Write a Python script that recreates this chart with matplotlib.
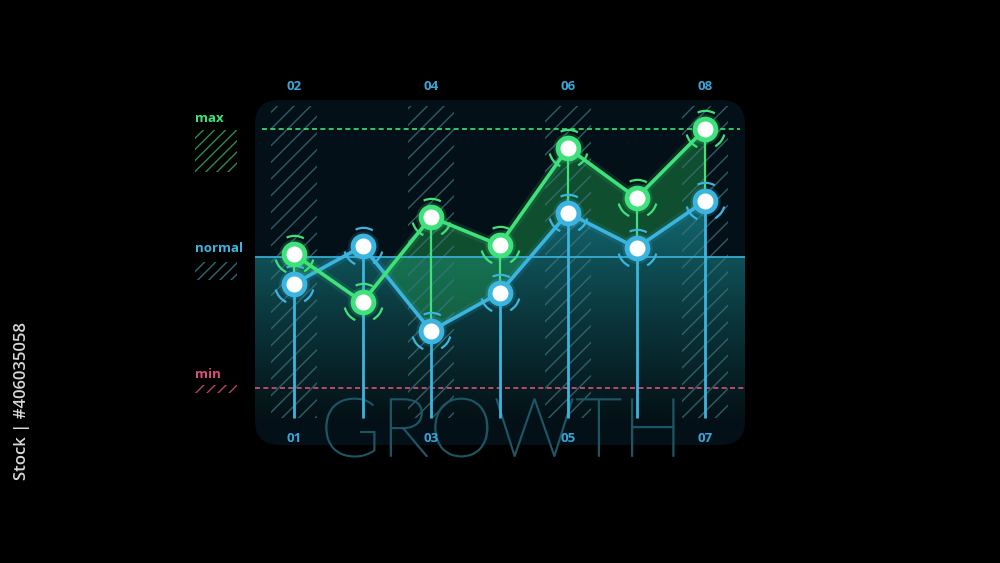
import numpy as np
import matplotlib
matplotlib.use("Agg")
import matplotlib.pyplot as plt
import matplotlib.patheffects as pe
from matplotlib.patches import Rectangle, FancyBboxPatch
from matplotlib.path import Path
from matplotlib.colors import LinearSegmentedColormap

# ---------------- data ----------------
x_pos = [1, 2, 3, 4, 5, 6, 7]
green_values = [51.7, 33.2, 66.0, 55.2, 92.7, 73.4, 100.0]
blue_values = [40.2, 54.8, 22.0, 36.7, 67.6, 54.1, 72.2]
max_level = 100.0
normal_level = 50.5
min_level = 0.0
top_labels = ["02", "04", "06", "08"]
bottom_labels = ["01", "03", "05", "07"]
label_pos = [1, 3, 5, 7]
legend_names = ["max", "normal", "min"]
title_text = "GROWTH"
stock_id = "Stock | #406035058"

# ---------------- style ----------------
BG = "#000000"
PANEL = "#031017"
GREEN = "#3fe27a"
BLUE = "#3bb5e0"
PINK = "#d9507c"
LABEL = "#3aa6d8"
HATCH_COL = "#3f7580"

plt.rcParams["hatch.linewidth"] = 1.0
fig = plt.figure(figsize=(10, 5.63), dpi=100, facecolor=BG)
ax = fig.add_axes([0, 0, 1, 1])
ax.set_facecolor(BG)
ax.set_axis_off()

# pixel mapping: x=1 -> 294 px, spacing 68.5 px ; y=0 -> 388 px from top, 2.59 px/unit
PX_X = 68.5
PX_Y = 2.59
ax.set_xlim(1 - 294 / PX_X, 1 + (1000 - 294) / PX_X)
ax.set_ylim(-(563 - 388) / PX_Y, 388 / PX_Y)

def px2x(p):
    return 1 + (p - 294) / PX_X

def px2y(p):
    return (388 - p) / PX_Y

xs = np.array(x_pos, dtype=float)
g = np.array(green_values)
b = np.array(blue_values)

x_left, x_right = px2x(255), px2x(745)
y_bottom_drop = px2y(418)

# panel
panel = FancyBboxPatch((x_left, px2y(445)), x_right - x_left, px2y(100) - px2y(445),
                       boxstyle="round,pad=0,rounding_size=0.35",
                       mutation_aspect=PX_X / PX_Y,
                       facecolor=PANEL, edgecolor="none", zorder=0)
ax.add_patch(panel)

# gradient (teal) under blue line and below normal line
cmap = LinearSegmentedColormap.from_list("tealgrad", ["#041116", "#0a3439", "#115e66", "#137478"])
grad = np.linspace(0, 1, 256).reshape(-1, 1)
ext = [x_left, x_right, px2y(420), max_level]
im1 = ax.imshow(grad, cmap=cmap, extent=ext, origin="lower", aspect="auto", zorder=1,
                interpolation="bicubic")
clip_rect = Rectangle((x_left, px2y(420)), x_right - x_left, normal_level - px2y(420),
                      transform=ax.transData, facecolor="none", edgecolor="none")
im1.set_clip_path(clip_rect)
im2 = ax.imshow(grad, cmap=cmap, extent=ext, origin="lower", aspect="auto", zorder=1,
                interpolation="bicubic")
poly_above = ax.fill_between(xs, b, normal_level, where=b > normal_level, interpolate=True,
                             facecolor="none", edgecolor="none")
paths = poly_above.get_paths()
if paths:
    verts = np.vstack([p.vertices for p in paths])
    codes = np.concatenate([p.codes if p.codes is not None else
                            np.r_[Path.MOVETO, [Path.LINETO] * (len(p.vertices) - 1)]
                            for p in paths])
    im2.set_clip_path(Path(verts, codes), ax.transData)

# green fill between green and blue
ax.fill_between(xs, g, b, where=g >= b, interpolate=True, color="#1f9a4e", alpha=0.45,
                lw=0, zorder=2)

# hatched columns
col_w = 46 / PX_X
for p in label_pos:
    ax.add_patch(Rectangle((p - col_w / 2, y_bottom_drop), col_w, px2y(106) - y_bottom_drop,
                           facecolor="none", edgecolor=HATCH_COL, hatch="//", lw=0,
                           alpha=0.75, zorder=3))

# reference lines
ax.hlines(max_level, px2x(262), px2x(740), colors=GREEN, linestyles=(0, (3, 2)), lw=1.2, zorder=4)
ax.hlines(normal_level, x_left, x_right, colors=BLUE, lw=1.4, alpha=0.85, zorder=4)
ax.hlines(min_level, x_left, x_right, colors=PINK, linestyles=(0, (3, 2)), lw=1.2, zorder=4)

# drop lines
ax.vlines(xs, y_bottom_drop, b, colors=BLUE, lw=2.0, zorder=5)
mask = g > b
ax.vlines(xs[mask], b[mask], g[mask], colors=GREEN, lw=1.6, zorder=5)

# series lines with glow
for vals, col in ((b, BLUE), (g, GREEN)):
    ax.plot(xs, vals, color=col, lw=7, alpha=0.12, solid_capstyle="round", zorder=6)
    ax.plot(xs, vals, color=col, lw=2.6, solid_capstyle="round", zorder=6)

# markers
arc_a = Path.arc(60, 115)
arc_b = Path.arc(195, 245)
arc_c = Path.arc(300, 345)
for vals, col in ((b, BLUE), (g, GREEN)):
    ax.plot(xs, vals, "o", ms=22, color=col, alpha=0.18, mew=0, zorder=7)
    for arc in (arc_a, arc_b, arc_c):
        ax.plot(xs, vals, linestyle="none", marker=arc, ms=27, mfc="none", mec=col,
                mew=1.6, zorder=7)
    ax.plot(xs, vals, "o", ms=15, mfc="white", mec=col, mew=3.5, zorder=8)

# big title (drawn beneath the tick labels)
ax.text(px2x(502), px2y(434), title_text, color="#1c5563", fontsize=59,
        family="Lato", fontweight="light", ha="center", va="center", zorder=4.5,
        path_effects=[pe.withStroke(linewidth=0.9, foreground="#1c5563")])

# axis labels
for p, t in zip(label_pos, top_labels):
    ax.text(p, px2y(86), t, color=LABEL, fontsize=9.5, fontweight="bold",
            family="Open Sans", ha="center", va="center", zorder=9)
for p, t in zip(label_pos, bottom_labels):
    ax.text(p, px2y(438), t, color=LABEL, fontsize=9.5, fontweight="bold",
            family="Open Sans", ha="center", va="center", zorder=9)

# legend on the left
leg_x0, leg_x1 = px2x(195), px2x(237)
ax.text(leg_x0, px2y(118), legend_names[0], color=GREEN, fontsize=9.5, fontweight="bold",
        family="Open Sans", ha="left", va="center")
ax.add_patch(Rectangle((leg_x0, px2y(172)), leg_x1 - leg_x0, px2y(130) - px2y(172),
                       facecolor="none", edgecolor="#2f8a4f", hatch="///", lw=0))
ax.text(leg_x0, px2y(249), legend_names[1], color=BLUE, fontsize=9.5, fontweight="bold",
        family="Open Sans", ha="left", va="center")
ax.add_patch(Rectangle((leg_x0, px2y(280)), leg_x1 - leg_x0, px2y(262) - px2y(280),
                       facecolor="none", edgecolor="#2a6a78", hatch="///", lw=0))
ax.text(leg_x0, px2y(374), legend_names[2], color=PINK, fontsize=9.5, fontweight="bold",
        family="Open Sans", ha="left", va="center")
ax.add_patch(Rectangle((leg_x0, px2y(393)), leg_x1 - leg_x0, px2y(385) - px2y(393),
                       facecolor="none", edgecolor="#b8436a", hatch="///", lw=0))

# stock id at left edge
ax.text(px2x(22), px2y(322), stock_id, color="#d8d8d8", fontsize=12, rotation=90,
        ha="center", va="top", family="Open Sans", fontweight="semibold")

fig.savefig("out.png", dpi=100, facecolor=BG)
